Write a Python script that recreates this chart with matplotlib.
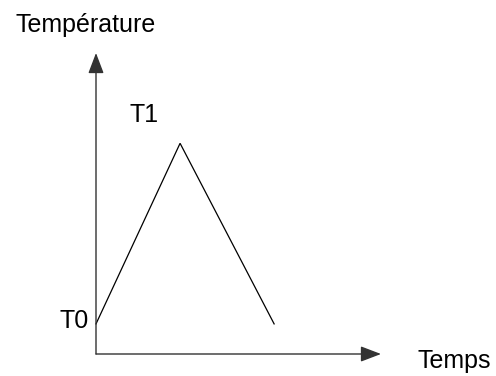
import numpy as np
import matplotlib
matplotlib.use("Agg")
import matplotlib.pyplot as plt

# =============================
# Data (arbitrary units)
# =============================
temps = [0, 2.95, 6.25]
temperature = [1.0, 7.0, 1.0]
point_labels = ["T0", "T1"]
x_label = "Temps"
y_label = "Température"

plt.rcParams['font.family'] = ['Liberation Sans', 'DejaVu Sans']

W, H = 496, 376
fig = plt.figure(figsize=(W / 100, H / 100), dpi=100)

# axes box: origin at pixel (96, 354), arrow tips at x=381 / y=53
left, bottom = 96 / W, (H - 354) / H
width, height = (381 - 96) / W, (354 - 53) / H
ax = fig.add_axes([left, bottom, width, height])
ax.set_xlim(0, 10)
ax.set_ylim(0, 10)
ax.axis('off')

axis_color = '#333333'
arrow = dict(arrowstyle='-|>,head_length=0.42,head_width=0.16', mutation_scale=30,
             color=axis_color, lw=1.0, shrinkA=0, shrinkB=0)
ax.annotate('', xy=(1, 0), xytext=(0, 0), xycoords='axes fraction', arrowprops=arrow)
ax.annotate('', xy=(0, 1), xytext=(0, 0), xycoords='axes fraction', arrowprops=arrow)

# the curve
ax.plot(temps, temperature, color='black', lw=0.9, solid_joinstyle='miter', clip_on=False)

fs = 18
def px_text(x, y, s):
    fig.text(x / W, 1 - y / H, s, fontsize=fs, ha='left', va='baseline')

px_text(15, 32, y_label)
px_text(417, 368, x_label)
px_text(60, 328, point_labels[0])
px_text(130, 122, point_labels[1])

fig.savefig("out.png", dpi=100)
